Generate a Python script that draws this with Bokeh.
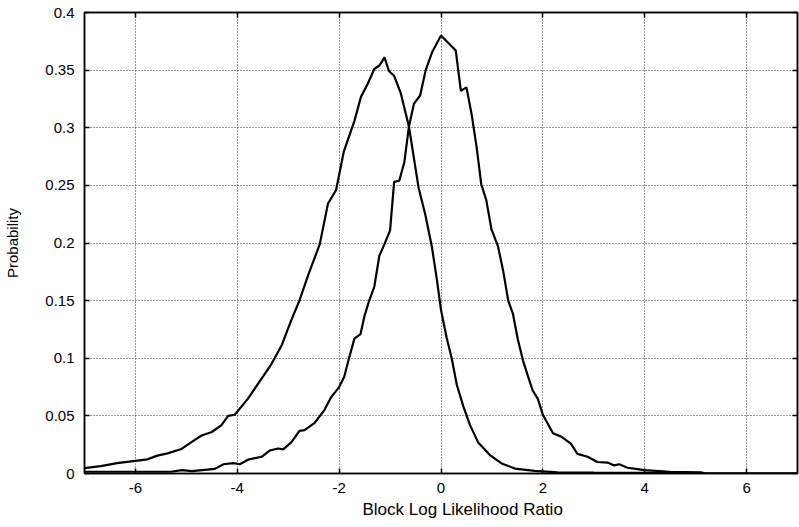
from bokeh.plotting import figure
from bokeh.models import Range1d, LinearAxis, FixedTicker, Grid, Title
from bokeh.embed import file_html
from bokeh.resources import INLINE

# Series A (peak near -1.1)
a_x = [-7.0, -6.68, -6.36, -6.0, -5.76, -5.57, -5.37, -5.11, -4.84, -4.70, -4.50, -4.31, -4.18, -4.05,
       -3.79, -3.59, -3.33, -3.13, -2.94, -2.78, -2.61, -2.38, -2.22, -2.06, -1.91, -1.70, -1.57, -1.44,
       -1.31, -1.21, -1.11, -1.02, -0.92, -0.79, -0.63, -0.44, -0.31, -0.18, -0.08, 0.0, 0.11, 0.21,
       0.31, 0.44, 0.57, 0.73, 0.96, 1.19, 1.45, 1.84, 2.29, 3.0, 4.0, 5.0, 5.2, 7.0]
a_y = [0.0047, 0.0064, 0.009, 0.011, 0.0123, 0.0155, 0.0175, 0.021, 0.029, 0.033, 0.036, 0.042, 0.050, 0.051,
       0.065, 0.078, 0.095, 0.111, 0.133, 0.150, 0.172, 0.199, 0.234, 0.246, 0.279, 0.306, 0.327, 0.338,
       0.351, 0.354, 0.361, 0.349, 0.345, 0.330, 0.301, 0.248, 0.225, 0.197, 0.168, 0.142, 0.118, 0.100,
       0.077, 0.058, 0.042, 0.027, 0.016, 0.0087, 0.0043, 0.0023, 0.001, 0.0007, 0.0005, 0.0003, 0.0, 0.0]

# Series B (peak near 0)
b_x = [-7.0, -6.0, -5.3, -5.09, -4.89, -4.44, -4.27, -4.08, -3.95, -3.79, -3.52, -3.36, -3.20, -3.10,
       -2.94, -2.78, -2.68, -2.48, -2.29, -2.16, -2.0, -1.90, -1.80, -1.70, -1.58, -1.50, -1.41, -1.31,
       -1.21, -1.11, -1.0, -0.92, -0.82, -0.72, -0.63, -0.53, -0.41, -0.30, -0.17, 0.0, 0.29, 0.39,
       0.50, 0.60, 0.70, 0.79, 0.89, 0.99, 1.12, 1.22, 1.32, 1.41, 1.51, 1.61, 1.71, 1.80, 1.90, 2.0,
       2.20, 2.36, 2.55, 2.68, 2.88, 3.07, 3.27, 3.40, 3.50, 3.66, 3.86, 3.99, 4.5, 5.1, 5.2, 7.0]
b_y = [0.0015, 0.0015, 0.0015, 0.003, 0.002, 0.004, 0.008, 0.009, 0.008, 0.012, 0.0145, 0.020, 0.0217, 0.021,
       0.027, 0.037, 0.0376, 0.044, 0.055, 0.066, 0.075, 0.084, 0.101, 0.117, 0.121, 0.137, 0.150, 0.162,
       0.189, 0.199, 0.211, 0.253, 0.254, 0.270, 0.301, 0.321, 0.328, 0.350, 0.366, 0.380, 0.367, 0.332,
       0.335, 0.312, 0.283, 0.251, 0.237, 0.212, 0.197, 0.176, 0.150, 0.139, 0.116, 0.098, 0.084, 0.072, 0.065, 0.051,
       0.035, 0.032, 0.026, 0.017, 0.0145, 0.010, 0.0095, 0.007, 0.008, 0.005, 0.0038, 0.003, 0.0015, 0.001, 0.0, 0.0]

x_ticks = [-6, -4, -2, 0, 2, 4, 6]
x_tick_labels = ["-6", "-4", "-2", "0", "2", "4", "6"]
y_ticks = [0, 0.05, 0.1, 0.15, 0.2, 0.25, 0.3, 0.35, 0.4]
y_tick_labels = ["0", "0.05", "0.1", "0.15", "0.2", "0.25", "0.3", "0.35", "0.4"]

x_title = "Block  Log Likelihood  Ratio"
y_title = "Probability"

FONT = "Liberation Sans"

p = figure(width=799, height=527, output_backend="svg", toolbar_location=None,
           x_range=Range1d(-7, 7), y_range=Range1d(0, 0.4),
           min_border_left=84, min_border_right=2, min_border_top=12, min_border_bottom=54,
           x_axis_location=None, y_axis_location=None)
p.background_fill_color = "white"
p.border_fill_color = "white"
p.outline_line_color = "black"
p.outline_line_width = 1.5

def style_axis(ax, ticks, labels, show_labels):
    ax.ticker = FixedTicker(ticks=ticks)
    ax.axis_line_color = "black"
    ax.axis_line_width = 1.5
    ax.major_tick_in = 5
    ax.major_tick_out = 0
    ax.major_tick_line_color = "black"
    ax.major_tick_line_width = 1.5
    ax.minor_tick_line_color = None
    if show_labels:
        ax.major_label_overrides = {t: l for t, l in zip(ticks, labels)}
        ax.major_label_text_font = FONT
        ax.major_label_text_font_size = "15px"
        ax.major_label_text_color = "black"
    else:
        ax.major_label_text_color = None
        ax.major_label_text_font_size = "0px"
        ax.major_label_standoff = 0

xb = LinearAxis()
style_axis(xb, x_ticks, x_tick_labels, True)
xb.major_label_standoff = 9
p.add_layout(xb, "below")

yl = LinearAxis()
style_axis(yl, y_ticks, y_tick_labels, True)
yl.major_label_standoff = 10
yl.axis_label = y_title
yl.axis_label_text_font = FONT
yl.axis_label_text_font_size = "15px"
yl.axis_label_text_font_style = "normal"
yl.axis_label_text_color = "black"
yl.axis_label_standoff = 21
p.add_layout(yl, "left")

xt = LinearAxis()
style_axis(xt, x_ticks, x_tick_labels, False)
p.add_layout(xt, "above")

yr = LinearAxis()
style_axis(yr, y_ticks, y_tick_labels, False)
p.add_layout(yr, "right")

p.xgrid.visible = False
p.ygrid.visible = False
p.add_layout(Grid(dimension=0, ticker=xb.ticker, grid_line_color="#333333",
                  grid_line_dash="1 2", grid_line_width=1))
p.add_layout(Grid(dimension=1, ticker=yl.ticker, grid_line_color="#333333",
                  grid_line_dash="1 2", grid_line_width=1))

p.line(a_x, a_y, line_color="black", line_width=2.2)
p.line(b_x, b_y, line_color="black", line_width=2.2)

p.add_layout(Title(text=x_title, text_font=FONT, text_font_size="17px", text_font_style="normal",
                   text_color="black", align="left", offset=278, standoff=4), "below")

open("out.html", "w").write(file_html(p, INLINE))
